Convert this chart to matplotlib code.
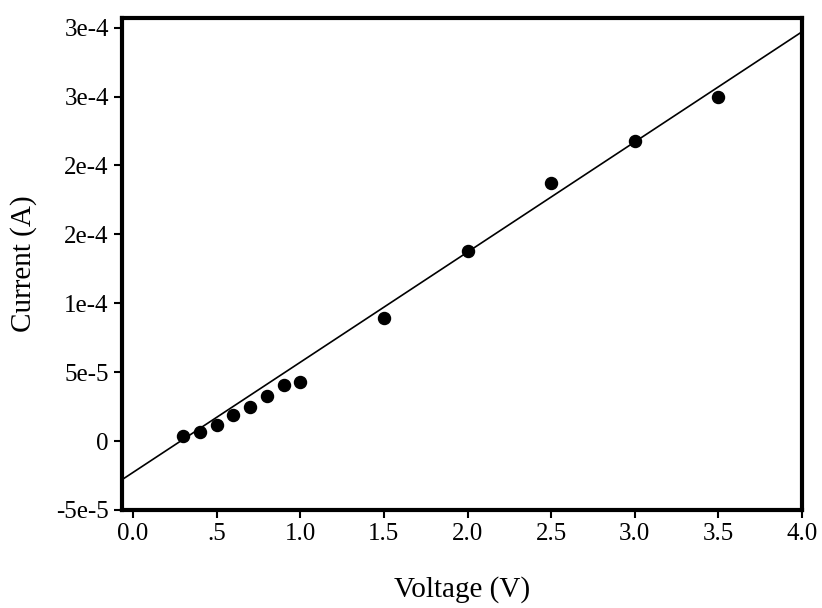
import matplotlib
matplotlib.use("Agg")
import matplotlib.pyplot as plt

voltage = [0.3, 0.4, 0.5, 0.6, 0.7, 0.8, 0.9, 1.0, 1.5, 2.0, 2.5, 3.0, 3.5]
current = [3.6e-6, 6.5e-6, 1.2e-5, 1.9e-5, 2.5e-5, 3.3e-5, 4.1e-5, 4.3e-5,
           8.9e-5, 1.38e-4, 1.87e-4, 2.18e-4, 2.5e-4]
fit_x = [-0.066, 4.0]
fit_y = [-2.8e-5, 2.97e-4]
xticks = [0.0, 0.5, 1.0, 1.5, 2.0, 2.5, 3.0, 3.5, 4.0]
xlabels = ["0.0", ".5", "1.0", "1.5", "2.0", "2.5", "3.0", "3.5", "4.0"]
yticks = [-5e-5, 0, 5e-5, 1e-4, 1.5e-4, 2e-4, 2.5e-4, 3e-4]
ylabels = ["-5e-5", "0", "5e-5", "1e-4", "2e-4", "2e-4", "3e-4", "3e-4"]

plt.rcParams['font.family'] = ['Liberation Serif', 'DejaVu Serif']
fig = plt.figure(figsize=(8.22, 6.08), dpi=100)
ax = fig.add_axes([122/822, 1-510/608, 680/822, 492/608])
ax.plot(fit_x, fit_y, color='black', lw=1.2)
ax.scatter(voltage, current, s=75, color='black', zorder=3)
ax.set_xlim(-0.066, 4.0)
ax.set_ylim(-5e-5, 3.07e-4)
ax.set_xticks(xticks)
ax.set_xticklabels(xlabels)
ax.set_yticks(yticks)
ax.set_yticklabels(ylabels)
ax.tick_params(labelsize=18, direction='out', length=6, width=1.5)
for s in ax.spines.values():
    s.set_linewidth(3)
ax.set_xlabel("Voltage (V)", fontsize=21, labelpad=22)
ax.set_ylabel("Current (A)", fontsize=21, labelpad=14)
fig.savefig("out.png", dpi=100)
